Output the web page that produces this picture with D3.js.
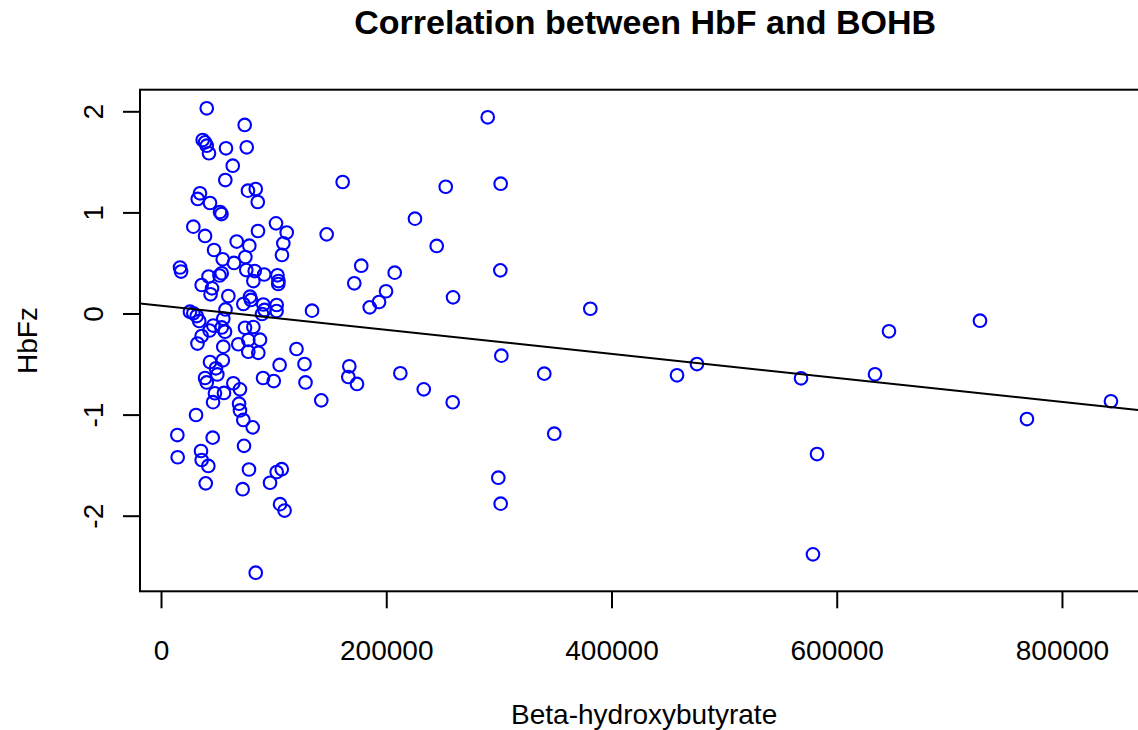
<!DOCTYPE html>
<html>
<head>
<meta charset="utf-8">
<script src="https://cdn.jsdelivr.net/npm/d3@7"></script>
<style>
  html, body { margin: 0; padding: 0; background: #ffffff; }
  svg { display: block; font-family: "Liberation Sans", Arial, Helvetica, sans-serif; }
</style>
</head>
<body>
<svg id="chart" width="1138" height="730"></svg>
<script>
// Beta-hydroxybutyrate concentration per sample
const bohb = [
  40600, 74300, 37000, 39100, 40600, 42600, 57700, 76100, 63700, 57100,
  34600, 32600, 43500, 77200, 84100, 85900, 52400, 53700, 28700, 39100,
  47100, 67200, 78400, 86100, 102100, 111600, 108600, 107400, 54800, 64800,
  74900, 16900, 17800, 42200, 53900, 51900, 36100, 45300, 44000, 59800,
  75700, 83200, 82000, 91600, 103400, 104300, 104100, 79000, 79900, 73100,
  90800, 91900, 89700, 102700, 102600, 57300, 25700, 28700, 31700, 33900,
  55300, 46400, 43100, 36100, 32400, 53900, 56800, 55300, 74600, 82000,
  68600, 77500, 87900, 77500, 86400, 54900, 43500, 48800, 50000, 105300,
  39100, 40600, 90600, 100100, 64200, 70100, 47900, 55900, 46200, 69300,
  70100, 31100, 73100, 81400, 14500, 45900, 73700, 14800, 35500, 36100,
  42000, 78100, 39700, 72500, 107200, 102700, 96800, 105700, 109700, 84100,
  120300, 127400, 128300, 142300, 134100, 147100, 161300, 167200, 166300, 171600,
  174000, 177800, 185300, 193600, 199800, 207500, 212500, 225500, 233300, 244800,
  252800, 259000, 259300, 290100, 301300, 301600, 302200, 299500, 301600, 340300,
  349200, 381200, 458200, 475900, 568300, 582500, 578900, 634000, 646400, 727200,
  768900, 843500
];

// HbF z-score of the same samples
const hbfz = [
  2.03, 1.865, 1.716, 1.693, 1.66, 1.585, 1.634, 1.644, 1.462, 1.32,
  1.189, 1.133, 1.093, 1.215, 1.231, 1.103, 1.004, 0.984, 0.859, 0.767,
  0.628, 0.712, 0.671, 0.816, 0.892, 0.801, 0.694, 0.579, 0.536, 0.5,
  0.559, 0.455, 0.415, 0.366, 0.398, 0.376, 0.282, 0.249, 0.19, 0.173,
  0.43, 0.42, 0.321, 0.386, 0.378, 0.321, 0.292, 0.166, 0.134, 0.094,
  0.089, 0.035, -0.005, 0.084, 0.025, 0.04, 0.018, 0.002, -0.025, -0.074,
  -0.051, -0.119, -0.168, -0.223, -0.297, -0.138, -0.18, -0.328, -0.141, -0.134,
  -0.304, -0.262, -0.259, -0.378, -0.389, -0.463, -0.48, -0.542, -0.603, -0.509,
  -0.638, -0.682, -0.638, -0.668, -0.69, -0.75, -0.789, -0.786, -0.877, -0.892,
  -0.959, -1.004, -1.053, -1.126, -1.202, -1.228, -1.309, -1.422, -1.36, -1.449,
  -1.508, -1.543, -1.68, -1.738, -1.54, -1.568, -1.674, -1.886, -1.949, -2.564,
  -0.351, -0.5, -0.682, -0.859, 0.028, 0.783, 1.301, -0.522, -0.628, 0.299,
  -0.697, 0.473, 0.061, 0.114, 0.22, 0.404, -0.591, 0.938, -0.75, 0.668,
  1.254, -0.878, 0.16, 1.941, 0.427, 1.284, -0.417, -1.624, -1.881, -0.595,
  -1.189, 0.047, -0.611, -0.5, -0.641, -1.39, -2.382, -0.601, -0.176, -0.071,
  -1.044, -0.868
];

// Axis ticks
const xTicks = [0, 200000, 400000, 600000, 800000];
const yTicks = [-2, -1, 0, 1, 2];

// Least-squares fit of HbFz on BOHB
const fitIntercept = 0.077;
const fitSlope = -1.19e-6;

const titleText = "Correlation between HbF and BOHB";
const xLabel = "Beta-hydroxybutyrate";
const yLabel = "HbFz";

// Plot region
const plot = { left: 140, right: 1148.3, top: 89.7, bottom: 591.3 };

// Pad each data range by 4% on both sides
function padded(values) {
  const [lo, hi] = d3.extent(values);
  const p = (hi - lo) * 0.04;
  return [lo - p, hi + p];
}

// Plain integer labels with an ASCII hyphen for negatives
const plainInt = d => String(Math.round(d));

const x = d3.scaleLinear().domain(padded(bohb)).range([plot.left, plot.right]);
const y = d3.scaleLinear().domain(padded(hbfz)).range([plot.bottom, plot.top]);

const svg = d3.select("#chart");

svg.append("defs").append("clipPath").attr("id", "plot-clip")
  .append("rect")
  .attr("x", plot.left).attr("y", plot.top)
  .attr("width", plot.right - plot.left).attr("height", plot.bottom - plot.top);

// Points
const pts = bohb.map((v, i) => ({ x: v, y: hbfz[i] }));
svg.append("g")
  .selectAll("circle")
  .data(pts)
  .join("circle")
  .attr("cx", d => x(d.x))
  .attr("cy", d => y(d.y))
  .attr("r", 6.3)
  .attr("fill", "none")
  .attr("stroke", "#0000ff")
  .attr("stroke-width", 2.1);

// Regression line across the plot region
const [x0, x1] = x.domain();
svg.append("line")
  .attr("clip-path", "url(#plot-clip)")
  .attr("x1", x(x0)).attr("y1", y(fitIntercept + fitSlope * x0))
  .attr("x2", x(x1)).attr("y2", y(fitIntercept + fitSlope * x1))
  .attr("stroke", "#000")
  .attr("stroke-width", 2);

// Frame
svg.append("rect")
  .attr("x", plot.left).attr("y", plot.top)
  .attr("width", plot.right - plot.left).attr("height", plot.bottom - plot.top)
  .attr("fill", "none")
  .attr("stroke", "#000")
  .attr("stroke-width", 2);

// X axis
const gx = svg.append("g")
  .attr("transform", `translate(0,${plot.bottom})`)
  .call(d3.axisBottom(x).tickValues(xTicks).tickFormat(plainInt).tickSize(17).tickSizeOuter(0));
gx.select(".domain").remove();
gx.selectAll(".tick line").attr("stroke", "#000").attr("stroke-width", 2);
gx.selectAll(".tick text")
  .attr("y", 69).attr("dy", null)
  .attr("fill", "#000")
  .style("font-size", "28px");

// Y axis (labels parallel to the axis)
const gy = svg.append("g")
  .attr("transform", `translate(${plot.left},0)`)
  .call(d3.axisLeft(y).tickValues(yTicks).tickFormat(plainInt).tickSize(17).tickSizeOuter(0));
gy.select(".domain").remove();
gy.selectAll(".tick line").attr("stroke", "#000").attr("stroke-width", 2);
gy.selectAll(".tick text")
  .attr("x", null).attr("dy", null)
  .attr("transform", "translate(-37,0) rotate(-90)")
  .attr("text-anchor", "middle")
  .attr("fill", "#000")
  .style("font-size", "28px");

// Titles
svg.append("text")
  .attr("x", (plot.left + plot.right) / 2 + 1).attr("y", 34)
  .attr("text-anchor", "middle")
  .style("font-size", "34px").style("font-weight", "bold")
  .text(titleText);

svg.append("text")
  .attr("x", (plot.left + plot.right) / 2).attr("y", 724)
  .attr("text-anchor", "middle")
  .style("font-size", "28px")
  .text(xLabel);

svg.append("text")
  .attr("transform", `translate(37,${(plot.top + plot.bottom) / 2}) rotate(-90)`)
  .attr("text-anchor", "middle")
  .style("font-size", "28px")
  .text(yLabel);
</script>
</body>
</html>
